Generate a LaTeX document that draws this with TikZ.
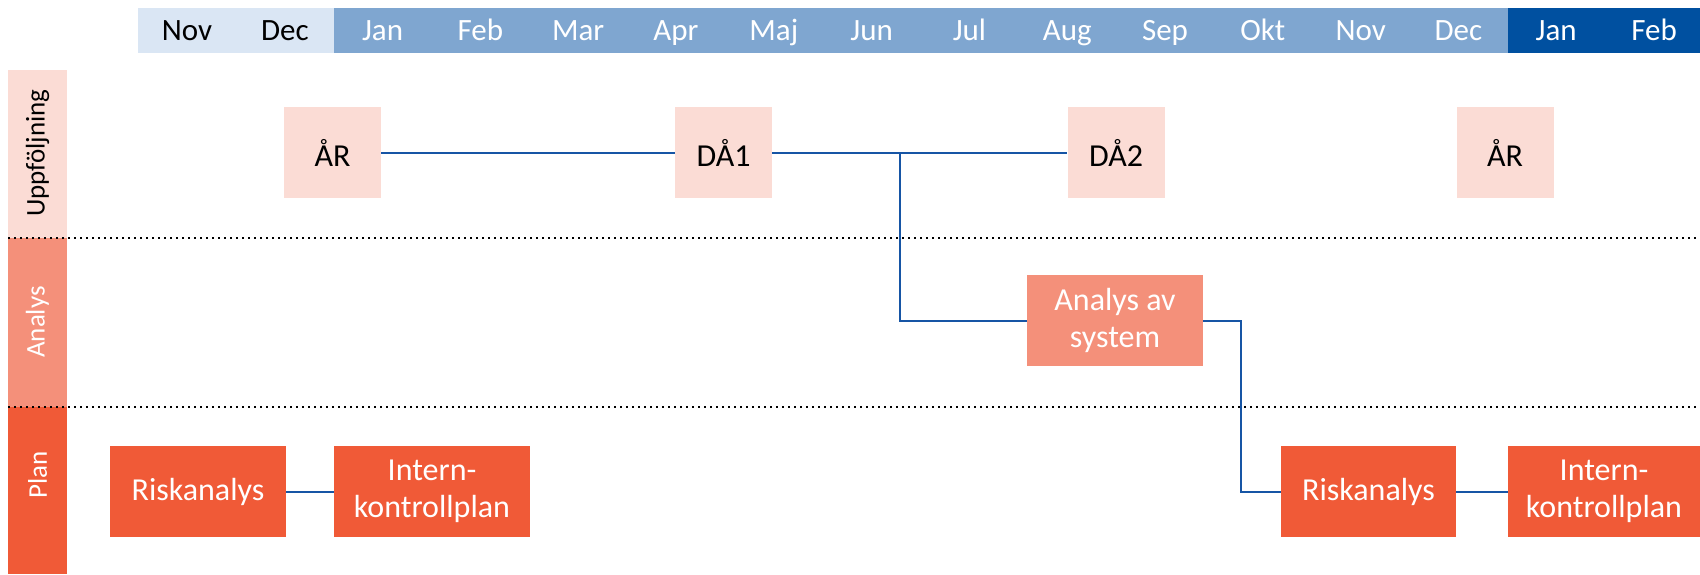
\documentclass[tikz,border=0pt]{standalone}
\usepackage{fontspec}
\setmainfont{Carlito}
\definecolor{monthlight}{RGB}{218,230,244}
\definecolor{monthmid}{RGB}{127,166,208}
\definecolor{monthdark}{RGB}{0,80,160}
\definecolor{palepink}{RGB}{251,220,213}
\definecolor{salmon}{RGB}{244,144,122}
\definecolor{planred}{RGB}{240,90,55}
\definecolor{linkblue}{RGB}{22,85,165}
\begin{document}
\begin{tikzpicture}[x=0.5pt,y=-0.5pt,
    every node/.style={font=\fontsize{16}{18.5}\selectfont, inner sep=0pt, align=center},
    month/.style={anchor=base, font=\fontsize{15.5}{18}\selectfont},
    uppf/.style={fill=palepink, minimum width=48.5pt, minimum height=45.5pt},
    analys/.style={fill=salmon, text=white, minimum width=88pt, minimum height=45.5pt},
    plan/.style={fill=planred, text=white, minimum height=45.5pt},
    lane/.style={rotate=90, font=\fontsize{13.5}{16}\selectfont},
    link/.style={draw=linkblue, line width=1pt}]
    \useasboundingbox (0,0) rectangle (1700,574);
    % month bar
    \fill[monthlight] (138,8) rectangle (334,53);
    \fill[monthmid] (334,8) rectangle (1508,53);
    \fill[monthdark] (1508,8) rectangle (1700,53);
    \foreach \m [count=\i from 0] in {Nov,Dec}
        \node[month] (m\i) at (187+97.8*\i,40) {\m};
    \foreach \m [count=\i from 2] in {Jan,Feb,Mar,Apr,Maj,Jun,Jul,Aug,Sep,Okt,Nov,Dec,Jan,Feb}
        \node[month, text=white] (m\i) at (187+97.8*\i,40) {\m};
    % lanes
    \fill[palepink] (8,70) rectangle (67,237.5);
    \fill[salmon] (8,237.5) rectangle (67,407);
    \fill[planred] (8,407) rectangle (67,574);
    \node[lane] (lbu) at (37.5,153) {Uppföljning};
    \node[lane, text=white] (lba) at (37.5,322) {Analys};
    \node[lane, text=white] (lbp) at (37.5,475) {Plan};
    \draw[dotted, line width=1pt] (8,237.5) -- (1700,237.5);
    \draw[dotted, line width=1pt] (8,407) -- (1700,407);
    % boxes
    \node[uppf] (ar1) at (332.5,152.5) {ÅR};
    \node[uppf] (da1) at (723.5,152.5) {DÅ1};
    \node[uppf] (da2) at (1116,152.5) {DÅ2};
    \node[uppf] (ar2) at (1505,152.5) {ÅR};
    \node[analys] (sys) at (1115,320.5) {Analys av\\system};
    \node[plan, minimum width=88pt] (risk1) at (198,491.5) {Riskanalys};
    \node[plan, minimum width=98pt] (ikp1) at (432,491.5) {Intern-\\kontrollplan};
    \node[plan, minimum width=87.5pt] (risk2) at (1368.5,491.5) {Riskanalys};
    \node[plan, minimum width=96pt] (ikp2) at (1604,491.5) {Intern-\\kontrollplan};
    % connectors
    \coordinate (fork) at (900,152.5);
    \coordinate (turn) at (1241,320.5);
    \draw[link] (ar1) -- (da1);
    \draw[link] (da1) -- (da2);
    \draw[link] (sys.west) -| (fork);
    \draw[link] (sys.east) -- (turn) |- (risk2.west);
    \draw[link] (risk1) -- (ikp1);
    \draw[link] (risk2) -- (ikp2);
\end{tikzpicture}
\end{document}
